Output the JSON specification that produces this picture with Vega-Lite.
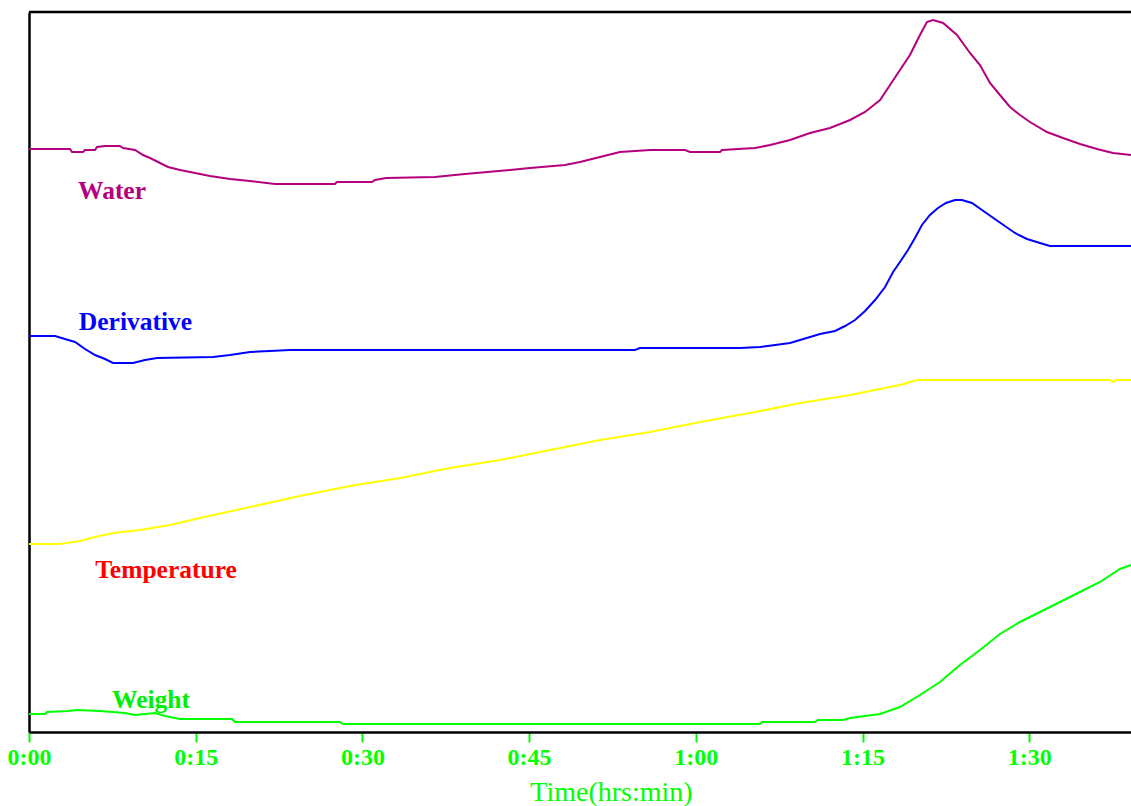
{
  "$schema": "https://vega.github.io/schema/vega-lite/v6.json",
  "width": 1102,
  "height": 720,
  "autosize": {"type": "none"},
  "padding": {"left": 29, "top": 12, "right": 0, "bottom": 74},
  "background": "white",
  "config": {"view": {"stroke": null}},
  "datasets": {
    "curves": [
      {"series": "Water", "t": 0, "v": 583}, {"series": "Water", "t": 3.69, "v": 583}, {"series": "Water", "t": 3.87, "v": 580}, {"series": "Water", "t": 4.86, "v": 580}, {"series": "Water", "t": 5.04, "v": 582}, {"series": "Water", "t": 5.94, "v": 582}, {"series": "Water", "t": 6.12, "v": 585}, {"series": "Water", "t": 6.84, "v": 586}, {"series": "Water", "t": 8.19, "v": 586}, {"series": "Water", "t": 8.46, "v": 584}, {"series": "Water", "t": 9.54, "v": 582}, {"series": "Water", "t": 10.26, "v": 577}, {"series": "Water", "t": 10.89, "v": 574}, {"series": "Water", "t": 11.79, "v": 569}, {"series": "Water", "t": 12.51, "v": 565}, {"series": "Water", "t": 13.59, "v": 562}, {"series": "Water", "t": 14.94, "v": 559}, {"series": "Water", "t": 16.29, "v": 556}, {"series": "Water", "t": 18.09, "v": 553}, {"series": "Water", "t": 19.89, "v": 551}, {"series": "Water", "t": 22.14, "v": 548}, {"series": "Water", "t": 27.53, "v": 548}, {"series": "Water", "t": 27.71, "v": 550}, {"series": "Water", "t": 30.86, "v": 550}, {"series": "Water", "t": 31.13, "v": 552}, {"series": "Water", "t": 32.12, "v": 554}, {"series": "Water", "t": 36.53, "v": 555}, {"series": "Water", "t": 39.23, "v": 558}, {"series": "Water", "t": 43.28, "v": 562}, {"series": "Water", "t": 45.08, "v": 564}, {"series": "Water", "t": 48.23, "v": 567}, {"series": "Water", "t": 49.58, "v": 570}, {"series": "Water", "t": 51.38, "v": 575}, {"series": "Water", "t": 53.18, "v": 580}, {"series": "Water", "t": 55.88, "v": 582}, {"series": "Water", "t": 59.03, "v": 582}, {"series": "Water", "t": 59.48, "v": 580}, {"series": "Water", "t": 62.18, "v": 580}, {"series": "Water", "t": 62.36, "v": 582}, {"series": "Water", "t": 65.33, "v": 584}, {"series": "Water", "t": 66.68, "v": 587}, {"series": "Water", "t": 68.48, "v": 592}, {"series": "Water", "t": 70.28, "v": 599}, {"series": "Water", "t": 72.08, "v": 604}, {"series": "Water", "t": 73.88, "v": 612}, {"series": "Water", "t": 75.23, "v": 620}, {"series": "Water", "t": 76.58, "v": 632}, {"series": "Water", "t": 77.48, "v": 647}, {"series": "Water", "t": 78.37, "v": 662}, {"series": "Water", "t": 79.27, "v": 677}, {"series": "Water", "t": 80.17, "v": 697}, {"series": "Water", "t": 80.8, "v": 710}, {"series": "Water", "t": 81.34, "v": 712}, {"series": "Water", "t": 82.25, "v": 709}, {"series": "Water", "t": 83.5, "v": 697}, {"series": "Water", "t": 84.67, "v": 679}, {"series": "Water", "t": 85.57, "v": 667}, {"series": "Water", "t": 86.47, "v": 649}, {"series": "Water", "t": 87.37, "v": 637}, {"series": "Water", "t": 88.27, "v": 625}, {"series": "Water", "t": 89.17, "v": 617}, {"series": "Water", "t": 90.07, "v": 610}, {"series": "Water", "t": 91.6, "v": 600}, {"series": "Water", "t": 93.04, "v": 594}, {"series": "Water", "t": 94.57, "v": 588}, {"series": "Water", "t": 96.1, "v": 583}, {"series": "Water", "t": 97.54, "v": 579}, {"series": "Water", "t": 99.16, "v": 577},

      {"series": "Derivative", "t": 0, "v": 396}, {"series": "Derivative", "t": 2.34, "v": 396}, {"series": "Derivative", "t": 3.24, "v": 393}, {"series": "Derivative", "t": 4.14, "v": 390}, {"series": "Derivative", "t": 5.04, "v": 383}, {"series": "Derivative", "t": 5.94, "v": 377}, {"series": "Derivative", "t": 6.84, "v": 373}, {"series": "Derivative", "t": 7.56, "v": 369}, {"series": "Derivative", "t": 9.36, "v": 369}, {"series": "Derivative", "t": 10.44, "v": 372}, {"series": "Derivative", "t": 11.52, "v": 374}, {"series": "Derivative", "t": 16.56, "v": 375}, {"series": "Derivative", "t": 18.09, "v": 377}, {"series": "Derivative", "t": 19.89, "v": 380}, {"series": "Derivative", "t": 23.49, "v": 382}, {"series": "Derivative", "t": 54.53, "v": 382}, {"series": "Derivative", "t": 54.98, "v": 384}, {"series": "Derivative", "t": 63.98, "v": 384}, {"series": "Derivative", "t": 65.78, "v": 385}, {"series": "Derivative", "t": 68.48, "v": 389}, {"series": "Derivative", "t": 69.38, "v": 392}, {"series": "Derivative", "t": 71.18, "v": 398}, {"series": "Derivative", "t": 72.53, "v": 401}, {"series": "Derivative", "t": 73.43, "v": 406}, {"series": "Derivative", "t": 74.33, "v": 412}, {"series": "Derivative", "t": 75.23, "v": 421}, {"series": "Derivative", "t": 76.13, "v": 432}, {"series": "Derivative", "t": 77.03, "v": 445}, {"series": "Derivative", "t": 77.75, "v": 460}, {"series": "Derivative", "t": 78.37, "v": 470}, {"series": "Derivative", "t": 79.09, "v": 482}, {"series": "Derivative", "t": 79.72, "v": 494}, {"series": "Derivative", "t": 80.35, "v": 507}, {"series": "Derivative", "t": 81.07, "v": 517}, {"series": "Derivative", "t": 81.79, "v": 524}, {"series": "Derivative", "t": 82.51, "v": 529}, {"series": "Derivative", "t": 83.32, "v": 532}, {"series": "Derivative", "t": 83.95, "v": 532}, {"series": "Derivative", "t": 84.85, "v": 529}, {"series": "Derivative", "t": 85.75, "v": 522}, {"series": "Derivative", "t": 86.65, "v": 515}, {"series": "Derivative", "t": 87.55, "v": 508}, {"series": "Derivative", "t": 88.72, "v": 499}, {"series": "Derivative", "t": 89.8, "v": 493}, {"series": "Derivative", "t": 90.97, "v": 489}, {"series": "Derivative", "t": 91.87, "v": 486}, {"series": "Derivative", "t": 99.16, "v": 486},

      {"series": "Temperature", "t": 0, "v": 188}, {"series": "Temperature", "t": 2.79, "v": 188}, {"series": "Temperature", "t": 4.59, "v": 191}, {"series": "Temperature", "t": 5.94, "v": 195}, {"series": "Temperature", "t": 7.56, "v": 199}, {"series": "Temperature", "t": 9.99, "v": 202}, {"series": "Temperature", "t": 12.69, "v": 207}, {"series": "Temperature", "t": 15.39, "v": 214}, {"series": "Temperature", "t": 19.89, "v": 225}, {"series": "Temperature", "t": 24.39, "v": 236}, {"series": "Temperature", "t": 28.88, "v": 246}, {"series": "Temperature", "t": 33.38, "v": 254}, {"series": "Temperature", "t": 37.88, "v": 264}, {"series": "Temperature", "t": 42.38, "v": 272}, {"series": "Temperature", "t": 46.88, "v": 282}, {"series": "Temperature", "t": 51.38, "v": 292}, {"series": "Temperature", "t": 55.88, "v": 300}, {"series": "Temperature", "t": 60.38, "v": 310}, {"series": "Temperature", "t": 64.88, "v": 319}, {"series": "Temperature", "t": 69.38, "v": 329}, {"series": "Temperature", "t": 73.88, "v": 337}, {"series": "Temperature", "t": 78.37, "v": 347}, {"series": "Temperature", "t": 79.9, "v": 352}, {"series": "Temperature", "t": 97.27, "v": 352}, {"series": "Temperature", "t": 97.54, "v": 350}, {"series": "Temperature", "t": 97.81, "v": 352}, {"series": "Temperature", "t": 99.16, "v": 352},

      {"series": "Weight", "t": 0, "v": 18}, {"series": "Weight", "t": 1.44, "v": 18}, {"series": "Weight", "t": 1.62, "v": 20}, {"series": "Weight", "t": 3.51, "v": 21}, {"series": "Weight", "t": 4.32, "v": 22}, {"series": "Weight", "t": 6.39, "v": 21}, {"series": "Weight", "t": 8.64, "v": 19}, {"series": "Weight", "t": 9.54, "v": 17}, {"series": "Weight", "t": 10.44, "v": 18}, {"series": "Weight", "t": 11.34, "v": 19}, {"series": "Weight", "t": 12.24, "v": 16}, {"series": "Weight", "t": 13.59, "v": 13}, {"series": "Weight", "t": 18.27, "v": 13}, {"series": "Weight", "t": 18.54, "v": 10}, {"series": "Weight", "t": 27.98, "v": 10}, {"series": "Weight", "t": 28.26, "v": 8}, {"series": "Weight", "t": 65.78, "v": 8}, {"series": "Weight", "t": 65.96, "v": 10}, {"series": "Weight", "t": 70.73, "v": 10}, {"series": "Weight", "t": 71.0, "v": 12}, {"series": "Weight", "t": 73.25, "v": 12}, {"series": "Weight", "t": 73.88, "v": 14}, {"series": "Weight", "t": 75.23, "v": 16}, {"series": "Weight", "t": 76.58, "v": 18}, {"series": "Weight", "t": 78.37, "v": 25}, {"series": "Weight", "t": 80.17, "v": 37}, {"series": "Weight", "t": 81.97, "v": 50}, {"series": "Weight", "t": 83.77, "v": 67}, {"series": "Weight", "t": 85.57, "v": 82}, {"series": "Weight", "t": 87.37, "v": 98}, {"series": "Weight", "t": 89.17, "v": 110}, {"series": "Weight", "t": 90.97, "v": 120}, {"series": "Weight", "t": 92.77, "v": 130}, {"series": "Weight", "t": 94.57, "v": 140}, {"series": "Weight", "t": 96.37, "v": 150}, {"series": "Weight", "t": 98.17, "v": 163}, {"series": "Weight", "t": 99.16, "v": 167}
    ],
    "labels": [
      {"series": "Water", "t": 7.47, "v": 533},
      {"series": "Derivative", "t": 9.58, "v": 402},
      {"series": "Temperature", "t": 12.33, "v": 154},
      {"series": "Weight", "t": 10.98, "v": 24}
    ],
    "frame": [{"top": 720}]
  },
  "encoding": {
    "x": {
      "field": "t",
      "type": "quantitative",
      "scale": {"domain": [0, 99.16], "nice": false, "zero": false},
      "axis": {
        "values": [0, 15, 30, 45, 60, 75, 90],
        "labelExpr": "floor(datum.value / 60) + ':' + (datum.value % 60 < 10 ? '0' : '') + (datum.value % 60)",
        "labelFont": "Liberation Serif",
        "labelFontWeight": "bold",
        "labelFontSize": 24,
        "labelColor": "#00ff00",
        "labelPadding": 3,
        "labelFlush": false,
        "labelBound": false,
        "labelOverlap": false,
        "tickColor": "#00ff00",
        "tickSize": 10,
        "tickWidth": 2,
        "domainColor": "#000000",
        "domainWidth": 2.5,
        "grid": false,
        "title": "Time(hrs:min)",
        "titleFont": "Liberation Serif",
        "titleFontWeight": "normal",
        "titleFontSize": 28,
        "titleColor": "#00ff00",
        "titleX": 582,
        "titleY": 68,
        "titleAlign": "center",
        "titleBaseline": "alphabetic"
      }
    },
    "y": {
      "field": "v",
      "type": "quantitative",
      "scale": {"domain": [0, 720], "nice": false, "zero": false},
      "axis": {
        "labels": false,
        "ticks": false,
        "grid": false,
        "title": null,
        "domainColor": "#000000",
        "domainWidth": 2.5
      }
    }
  },
  "layer": [
    {
      "data": {"name": "curves"},
      "mark": {"type": "line", "strokeWidth": 2, "interpolate": "linear"},
      "encoding": {
        "stroke": {
          "field": "series",
          "type": "nominal",
          "scale": {"domain": ["Water", "Derivative", "Temperature", "Weight"], "range": ["#b4007e", "#0000ff", "#ffff00", "#00ff00"]},
          "legend": null
        },
        "detail": {"field": "series"}
      }
    },
    {
      "data": {"name": "labels"},
      "mark": {"type": "text", "font": "Liberation Serif", "fontWeight": "bold", "fontSize": 25.5, "align": "center", "baseline": "alphabetic"},
      "encoding": {
        "text": {"field": "series"},
        "fill": {
          "field": "series",
          "type": "nominal",
          "scale": {"domain": ["Water", "Derivative", "Temperature", "Weight"], "range": ["#b4007e", "#0000ff", "#ff0000", "#00ee00"]},
          "legend": null
        }
      }
    },
    {
      "data": {"name": "frame"},
      "mark": {"type": "rule", "color": "#000000", "strokeWidth": 2.5},
      "encoding": {
        "y": {"field": "top", "type": "quantitative"},
        "x": {"value": 0},
        "x2": {"value": 1102}
      }
    }
  ]
}
